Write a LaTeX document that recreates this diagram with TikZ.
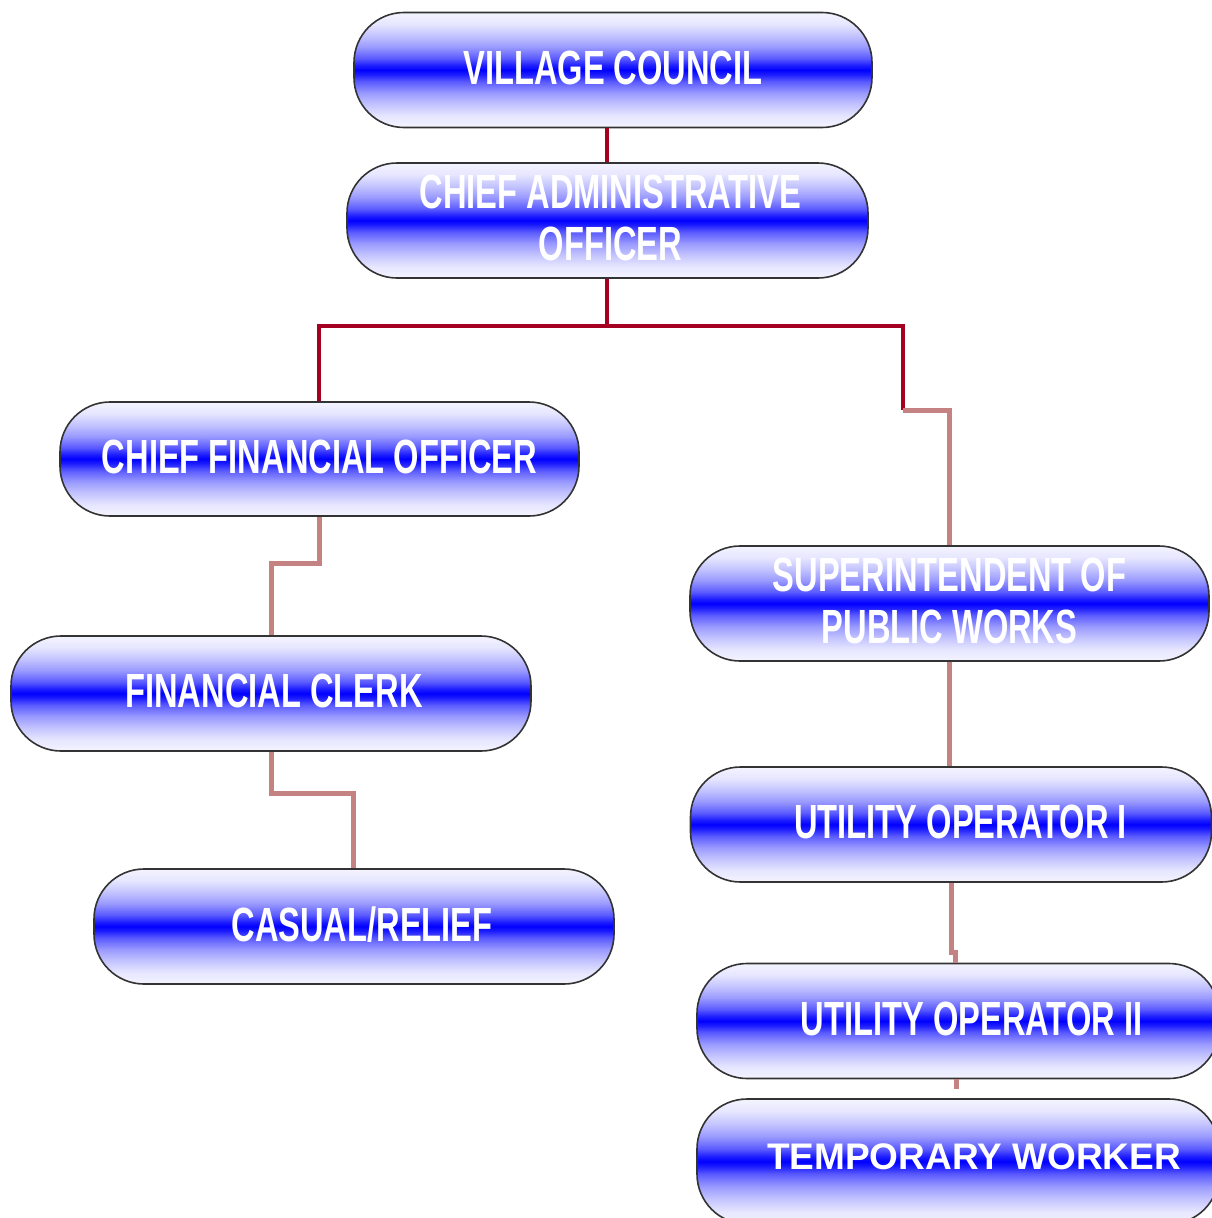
\documentclass[tikz,border=0pt]{standalone}
\usepackage{fontspec}
\setmainfont{Liberation Sans}
\newfontfamily\narrowfont[FakeStretch=0.68]{Liberation Sans}
\definecolor{edgeb}{HTML}{F4F4FF}
\definecolor{c1}{HTML}{E6E6FF}
\definecolor{c2}{HTML}{C4C4FF}
\definecolor{c3}{HTML}{9A9AFF}
\definecolor{c4}{HTML}{5A5AFF}
\definecolor{c5}{HTML}{1E1EFF}
\definecolor{darkc}{HTML}{A50021}
\definecolor{lightc}{HTML}{C48282}
\pgfdeclareverticalshading{pill}{100bp}{color(0bp)=(edgeb); color(25bp)=(edgeb); color(30bp)=(c1); color(35bp)=(c2); color(40bp)=(c3); color(45bp)=(c4); color(48bp)=(c5); color(50bp)=(blue); color(52bp)=(c5); color(55bp)=(c4); color(60bp)=(c3); color(65bp)=(c2); color(70bp)=(c1); color(75bp)=(edgeb); color(100bp)=(edgeb)}
\tikzset{
  pillbox/.style={rectangle, rounded corners=50pt, draw=black!80, line width=1.6pt,
    shading=pill, minimum height=115pt, inner sep=0pt, text=white, align=center,
    text depth=5pt,
    font=\narrowfont\bfseries\fontsize{48}{52}\selectfont},
  darkline/.style={draw=darkc, line width=4.5pt},
  lightline/.style={draw=lightc, line width=5pt},
}
\begin{document}
\begin{tikzpicture}[x=1pt,y=-1pt]
\useasboundingbox (0,0) rectangle (1211,1218);
% boxes
\node[pillbox, minimum width=518pt] (vc) at (613,70) {VILLAGE COUNCIL};
\node[pillbox, minimum width=521pt] (cao) at (607.5,220.5) {\hspace*{6pt}CHIEF ADMINISTRATIVE\\\hspace*{6pt}OFFICER};
\node[pillbox, minimum width=519pt, minimum height=114pt] (cfo) at (319.5,459) {CHIEF FINANCIAL OFFICER};
\node[pillbox, minimum width=520pt] (fc) at (271,693.5) {\hspace*{6pt}FINANCIAL CLERK};
\node[pillbox, minimum width=520pt] (cr) at (354,926.5) {\hspace*{16pt}CASUAL/RELIEF};
\node[pillbox, minimum width=519pt] (spw) at (949.5,603.5) {SUPERINTENDENT OF\\PUBLIC WORKS};
\node[pillbox, minimum width=521pt] (uo1) at (951,824.5) {\hspace*{19pt}UTILITY OPERATOR I};
\node[pillbox, minimum width=522pt] (uo2) at (958,1021) {\hspace*{27pt}UTILITY OPERATOR II};
\node[pillbox, minimum width=522pt, minimum height=125pt, text depth=9pt, font=\bfseries\fontsize{37}{40}\selectfont] (tw) at (958,1161.5) {\hspace*{32pt}TEMPORARY WORKER};
% helper coordinates
\coordinate (jA) at (607,326);
\coordinate (jL) at (319,326);
\coordinate (jR) at (903,326);
\coordinate (jR2) at (903,410);
\coordinate (jS) at (949,410);
\coordinate (k1) at (319,563);
\coordinate (k2) at (271,563);
\coordinate (m1) at (271,793);
\coordinate (m2) at (353,793);
\coordinate (u1) at (951,952);
\coordinate (u2) at (955,952);
\coordinate (tend) at (956,1089);
% connectors
\draw[darkline] (vc.south -| jA) -- (cao.north -| jA);
\draw[darkline] (cao.south -| jA) -- (jA);
\draw[darkline, line cap=rect] (jL) -- (jR);
\draw[darkline] (jL) -- (cfo.north -| jL);
\draw[darkline] (jR) -- (jR2);
\draw[lightline] (jR2) -- (jS) -- (spw.north -| jS);
\draw[lightline] (cfo.south -| k1) -- (k1) -- (k2) -- (fc.north -| k2);
\draw[lightline] (fc.south -| m1) -- (m1) -- (m2) -- (cr.north -| m2);
\draw[lightline] (spw.south -| jS) -- (uo1.north -| jS);
\draw[lightline] (uo1.south -| u1) -- (u1) -- (u2) -- (uo2.north -| u2);
\draw[lightline] (uo2.south -| tend) -- (tend);
\end{tikzpicture}
\end{document}
